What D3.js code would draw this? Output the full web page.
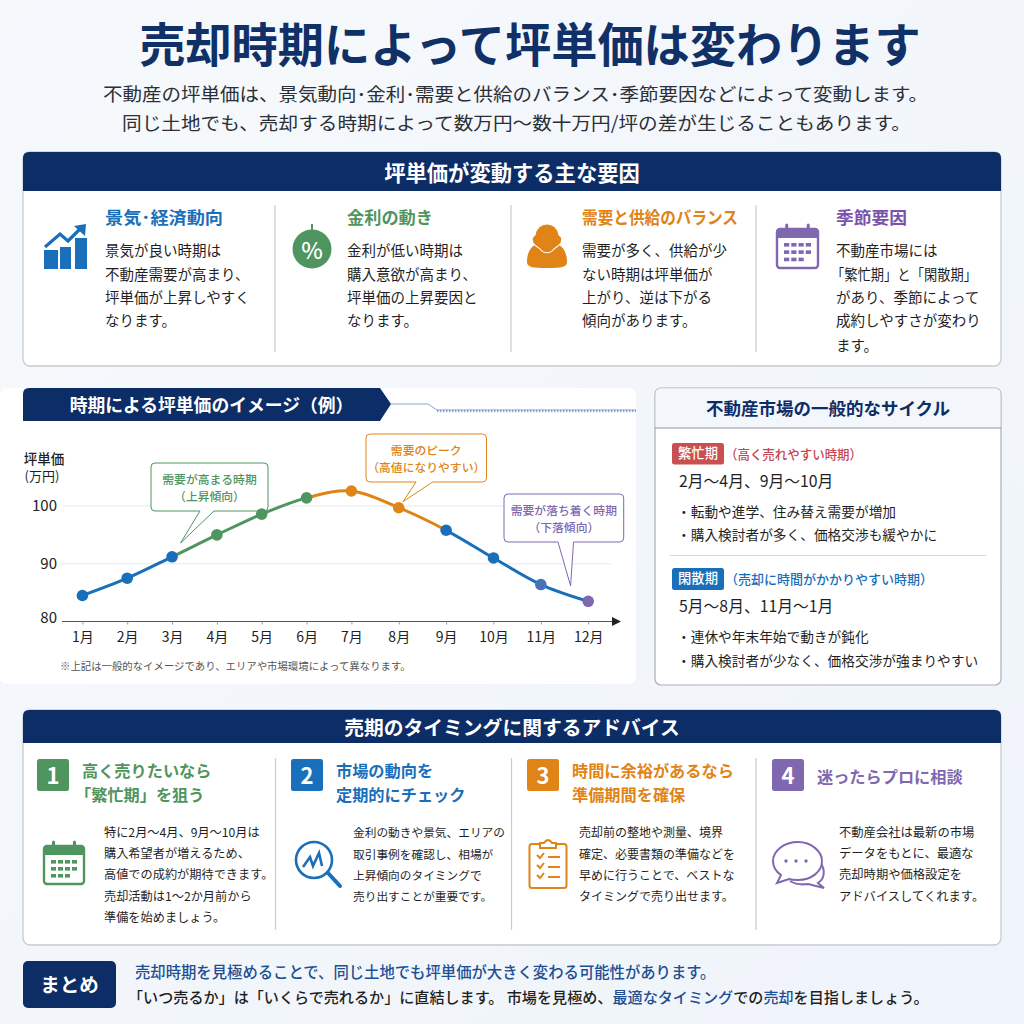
<!DOCTYPE html>
<html lang="ja"><head><meta charset="utf-8">
<script src="https://cdn.jsdelivr.net/npm/d3@7"></script>
<style>html,body{margin:0;padding:0;background:#f3f7fb}svg{display:block}text{font-family:"Noto Sans CJK JP","Noto Sans",sans-serif}</style>
</head><body><svg id="c" width="1024" height="1024" viewBox="0 0 1024 1024"></svg>
<script>
// ---- chart data ----
const months = ["1月","2月","3月","4月","5月","6月","7月","8月","9月","10月","11月","12月"];
const prices = [84.5,87.5,91.2,95,98.6,101.4,102.6,99.7,95.8,91,86.4,83.5];
const yTicks = [80,90,100];
const segmentEnds = [0,2,5,8,11];
const segmentNames = ["blue","green","orange","blue"];
const pointNames = ["blue","blue","blue","green","green","green","orange","orange","blue","blue","slate","purple"];
// ---- text ----
const titleText = "売却時期によって坪単価は変わります";
const leadLines = ["不動産の坪単価は、景気動向･金利･需要と供給のバランス･季節要因などによって変動します。","同じ土地でも、売却する時期によって数万円～数十万円/坪の差が生じることもあります。"];
const factorHeads = ["景気･経済動向","金利の動き","需要と供給のバランス","季節要因"];
const factorBodies = [
 ["景気が良い時期は","不動産需要が高まり、","坪単価が上昇しやすく","なります。"],
 ["金利が低い時期は","購入意欲が高まり、","坪単価の上昇要因と","なります。"],
 ["需要が多く、供給が少","ない時期は坪単価が","上がり、逆は下がる","傾向があります。"],
 ["不動産市場には","「繁忙期」と「閑散期」","があり、季節によって","成約しやすさが変わり","ます。"]];
const adviceHeads = [["高く売りたいなら","「繁忙期」を狙う"],["市場の動向を","定期的にチェック"],["時間に余裕があるなら","準備期間を確保"],["迷ったらプロに相談"]];
const adviceBodies = [
 ["特に2月～4月、9月～10月は","購入希望者が増えるため、","高値での成約が期待できます。","売却活動は1～2か月前から","準備を始めましょう。"],
 ["金利の動きや景気、エリアの","取引事例を確認し、相場が","上昇傾向のタイミングで","売り出すことが重要です。"],
 ["売却前の整地や測量、境界","確定、必要書類の準備などを","早めに行うことで、ベストな","タイミングで売り出せます。"],
 ["不動産会社は最新の市場","データをもとに、最適な","売却時期や価格設定を","アドバイスしてくれます。"]];

const C={navy:"#0d2d67",blue:"#1a6fbb",green:"#4f9560",orange:"#e08417",purple:"#8068b0",slate:"#4a72b5",ink:"#1f1f1f",grey:"#c6cbd2"};
const svg=d3.select("#c");
const defs=svg.append("defs");
const bg=defs.append("linearGradient").attr("id","bg").attr("x1",0).attr("y1",0).attr("x2",1).attr("y2",1);
bg.append("stop").attr("offset",0).attr("stop-color","#f6f9fc");bg.append("stop").attr("offset",1).attr("stop-color","#eff4fa");
svg.append("rect").attr("width",1024).attr("height",1024).attr("fill","url(#bg)");

function T(g,x,y,s,o={}){const t=g.append("text").attr("x",x).attr("y",y-1.3).attr("dominant-baseline","central")
 .attr("font-size",o.size||14).attr("font-weight",o.weight||400).attr("fill",o.fill||C.ink).attr("text-anchor",o.anchor||"start").text(s);
 if(o.len)t.attr("textLength",o.len).attr("lengthAdjust","spacingAndGlyphs");return t;}
function topRound(x,y,w,h,r){return `M${x},${y+h}V${y+r}Q${x},${y} ${x+r},${y}H${x+w-r}Q${x+w},${y} ${x+w},${y+r}V${y+h}Z`;}
function panel(x,y,w,h,headH,title,size){
 const g=svg.append("g");
 g.append("rect").attr("x",x).attr("y",y).attr("width",w).attr("height",h).attr("rx",7).attr("fill","#fff").attr("stroke",C.grey).attr("stroke-width",1.3);
 g.append("path").attr("d",topRound(x,y,w,headH,6)).attr("fill",C.navy);
 T(g,x+w/2,y+headH/2+1,title,{size,weight:700,fill:"#fff",anchor:"middle"});
 return g;}
function dividers(g,xs,y1,y2){xs.forEach(x=>g.append("line").attr("x1",x).attr("x2",x).attr("y1",y1).attr("y2",y2).attr("stroke","#c9ccd1").attr("stroke-width",1.2));}

// title
T(svg,530,42.5,titleText,{size:46.2,weight:700,fill:"#103068",anchor:"middle"});
T(svg,103,94,leadLines[0],{size:18.6,fill:"#2b2f36",len:825});
T(svg,122,123,leadLines[1],{size:18.6,fill:"#2b2f36",len:789});

// factors
const p1=panel(23,152,978,214,39,"坪単価が変動する主な要因",21.3);
dividers(p1,[275,511,756],205,352);
const fx=[105,347,582,836], fc=[C.blue,C.green,C.orange,"#7b52ab"];
const fhLen=[118,86,156,71];
factorHeads.forEach((h,i)=>{
 T(p1,fx[i],218,h,{size:17,weight:700,fill:fc[i],len:fhLen[i]});
 factorBodies[i].forEach((l,j)=>{
  const o={size:14.5}; let lx=fx[i];
  if(l[0]==="「"){lx-=5;o.len=146;}
  T(p1,lx,[251,274.5,298,321,345.5][j],l,o);
 });
});
// icon chart
{const g=p1.append("g").attr("fill",C.blue);
 [[44,250,14,19],[60,247,11,22],[75,238,12,31]].forEach(b=>g.append("rect").attr("x",b[0]).attr("y",b[1]).attr("width",b[2]).attr("height",b[3]));
 g.append("path").attr("d","M45,247L60,234L68,241L80,229").attr("fill","none").attr("stroke",C.blue).attr("stroke-width",3.2);
 g.append("path").attr("d","M74,226L86,224L85,236Z");}
// icon percent
p1.append("circle").attr("cx",312).attr("cy",249).attr("r",19.5).attr("fill",C.green);
p1.append("path").attr("d","M312,224V231").attr("stroke",C.green).attr("stroke-width",2);
T(p1,312,250,"%",{size:23,weight:500,fill:"#fff",anchor:"middle"});
// icon person
{const g=p1.append("g");
 g.append("path").attr("d","M527,262C527,250 533,244 541,243C544,250 550,250 553,243C561,244 567,250 567,262C567,267 562,268 547,268C532,268 527,267 527,262Z").attr("fill",C.orange);
 g.append("path").attr("d","M533,243C531,238 533,236 535,235C536,228 541,224 547,224C553,224 558,228 559,235C561,236 563,238 561,243C559,246 556,247 554,249C550,254 544,254 540,249C538,247 535,246 533,243Z").attr("fill",C.orange).attr("stroke","#fff").attr("stroke-width",1.1);}
// calendar icon helper
function calendar(g,x,y,w,h,col,rows,cols){
 g.append("rect").attr("x",x+1).attr("y",y+4).attr("width",w-2).attr("height",h-5).attr("rx",3).attr("fill","#fff").attr("stroke",col).attr("stroke-width",2.4);
 g.append("path").attr("d",topRound(x+1,y+4,w-2,9,3)).attr("fill",col);
 [x+w*.25,x+w*.75].forEach(px=>g.append("line").attr("x1",px).attr("x2",px).attr("y1",y).attr("y2",y+9).attr("stroke",col).attr("stroke-width",3).attr("stroke-linecap","round"));
 d3.range(rows).forEach(r=>d3.range(cols-(r==rows-1?1:0)).forEach(c=>g.append("rect").attr("x",x+8+c*(w-14)/cols).attr("y",y+18+r*(h-22)/rows).attr("width",(w-14)/cols-2).attr("height",3.6).attr("fill",col)));
}
calendar(p1,776,225,43,44,C.purple,3,4);

// chart card
svg.append("rect").attr("x",0).attr("y",388).attr("width",636).attr("height",296).attr("rx",7).attr("fill","#fff");
svg.append("path").attr("d","M23,394Q23,388 29,388H380L391,404L380,421H23Z").attr("fill",C.navy);
T(svg,211.5,405.5,"時期による坪単価のイメージ（例）",{size:17.8,weight:700,fill:"#fff",anchor:"middle"});
svg.append("path").attr("d","M391,404H428L437,410H636").attr("fill","none").attr("stroke","#6d8fc2").attr("stroke-width",.8);
svg.append("path").attr("d","M437,411H636").attr("fill","none").attr("stroke","#6d8fc2").attr("stroke-width",2.4).attr("stroke-dasharray","1.4 1.6").attr("opacity",.75);

const x=d3.scaleLinear().domain([0,6,11]).range([82.4,351.4,588.2]);
const y=d3.scaleLinear().domain([80,100]).range([621.5,506]);
const chart=svg.append("g");
chart.selectAll("line.grid").data(yTicks.slice(1)).join("line").attr("class","grid").attr("x1",62).attr("x2",612).attr("y1",d=>y(d)).attr("y2",d=>y(d)).attr("stroke","#eef1f4").attr("stroke-width",1.3);
const xAxis=chart.append("g").attr("transform",`translate(0,${y(80)})`).call(d3.axisBottom(x).tickValues(d3.range(12)).tickFormat(i=>months[i]).tickSize(3).tickPadding(8));
xAxis.select(".domain").attr("d","M62,0H612").attr("stroke","#555").attr("stroke-width",1.2);
xAxis.selectAll(".tick line").attr("stroke","#999");
xAxis.selectAll("text").attr("font-size",14).attr("fill","#222").attr("font-family",'"Noto Sans CJK JP"');
chart.append("path").attr("d",`M612,${y(80)-4.5}L621,${y(80)}L612,${y(80)+4.5}Z`).attr("fill","#222");
const yAxis=chart.append("g").attr("transform","translate(62,0)").call(d3.axisLeft(y).tickValues(yTicks).tickSize(0).tickPadding(5));
yAxis.select(".domain").remove();
yAxis.selectAll("text").attr("font-size",15).attr("fill","#222").attr("font-family",'"Noto Sans CJK JP"').attr("dy",d=>d===80?"0.05em":"0.32em");
T(chart,44,459,"坪単価",{size:13.5,anchor:"middle",weight:500});
T(chart,42,477,"(万円)",{size:13,anchor:"middle"});

function callout(x0,y0,w,h,b1,b2,tx,ty,col,lines){
 const g=chart.append("g");
 g.append("path").attr("d",`M${x0+4},${y0}H${x0+w-4}Q${x0+w},${y0} ${x0+w},${y0+4}V${y0+h-4}Q${x0+w},${y0+h} ${x0+w-4},${y0+h}H${b2}L${tx},${ty}L${b1},${y0+h}H${x0+4}Q${x0},${y0+h} ${x0},${y0+h-4}V${y0+4}Q${x0},${y0} ${x0+4},${y0}Z`)
  .attr("fill","#fff").attr("fill-opacity",.95).attr("stroke",col).attr("stroke-width",1);
 lines.forEach((l,i)=>T(g,x0+w/2,y0+17+i*17,l,{size:11.8,weight:500,fill:col,anchor:"middle"}));
}
callout(151,463,117,48,200,214,180.5,543,C.green,["需要が高まる時期","（上昇傾向）"]);
callout(366,434,120.5,48,416,432.6,403,501.7,C.orange,["需要のピーク","（高値になりやすい）"]);
callout(504,494,119.7,48,558,573.5,570.6,586,C.purple,["需要が落ち着く時期","（下落傾向）"]);

const line=d3.line().x((d,i)=>x(i)).y(d=>y(d)).curve(d3.curveCatmullRom.alpha(0.5));
segmentNames.forEach((n,i)=>{
 const id="seg"+i, a=x(segmentEnds[i]), b=x(segmentEnds[i+1]);
 defs.append("clipPath").attr("id",id).append("rect").attr("x",a).attr("y",400).attr("width",b-a).attr("height",260);
 chart.append("path").datum(prices).attr("d",line).attr("fill","none").attr("stroke",C[n]).attr("stroke-width",3).attr("clip-path",`url(#${id})`);
});
chart.selectAll("circle.pt").data(prices).join("circle").attr("class","pt").attr("cx",(d,i)=>x(i)).attr("cy",d=>y(d)).attr("r",5.8).attr("fill",(d,i)=>C[pointNames[i]]);

T(svg,60,667,"※上記は一般的なイメージであり、エリアや市場環境によって異なります。",{size:10.4,fill:"#555"});

// cycle card
const cc=svg.append("g");
cc.append("rect").attr("x",655).attr("y",388).attr("width",346).attr("height",297).attr("rx",6).attr("fill","#fff").attr("stroke","#a9b0b9").attr("stroke-width",1.2);
cc.append("path").attr("d",topRound(655.6,388.6,344.8,39,5)).attr("fill","#f3f6fb");
cc.append("line").attr("x1",655).attr("x2",1001).attr("y1",428).attr("y2",428).attr("stroke","#8e959e").attr("stroke-width",1.1);
T(cc,828,409,"不動産市場の一般的なサイクル",{size:17.5,weight:700,fill:C.navy,anchor:"middle"});
cc.append("rect").attr("x",672).attr("y",443).attr("width",52).attr("height",21.5).attr("rx",2.5).attr("fill","#c94f50");
T(cc,698,454,"繁忙期",{size:13.3,weight:500,fill:"#fff",anchor:"middle"});
T(cc,725,455,"（高く売れやすい時期）",{size:13,weight:500,fill:"#c8444f",len:137});
T(cc,679,481.5,"2月～4月、9月～10月",{size:15.8});
T(cc,677,512.5,"・転動や進学、住み替え需要が増加",{size:13.7});
T(cc,677,535.5,"・購入検討者が多く、価格交渉も緩やかに",{size:13.7});
cc.append("line").attr("x1",670).attr("x2",986).attr("y1",555.5).attr("y2",555.5).attr("stroke","#d2d5d9").attr("stroke-width",1);
cc.append("rect").attr("x",672).attr("y",568).attr("width",52).attr("height",22).attr("rx",2.5).attr("fill",C.blue);
T(cc,698,579,"閑散期",{size:13.3,weight:500,fill:"#fff",anchor:"middle"});
T(cc,725,580,"（売却に時間がかかりやすい時期）",{size:13,weight:500,fill:C.blue,len:208});
T(cc,679,607,"5月～8月、11月～1月",{size:15.8});
T(cc,677,637.5,"・連休や年末年始で動きが鈍化",{size:13.7});
T(cc,677,661.5,"・購入検討者が少なく、価格交渉が強まりやすい",{size:13.7});

// advice
const p3=panel(23,710,978,235,33,"売期のタイミングに関するアドバイス",19.8);
dividers(p3,[275.5,511.5,756],758,930);
const bx=[37,291,527,772], hx=[82,336,572,817], ax=[104,353,579,839], ac=[C.green,C.blue,C.orange,C.purple], bs=[12.2,11.7,12,12.3];
adviceHeads.forEach((h,i)=>{
 p3.append("rect").attr("x",bx[i]).attr("y",759).attr("width",32).attr("height",32).attr("rx",2.5).attr("fill",ac[i]);
 T(p3,bx[i]+16,775.5,String(i+1),{size:22,weight:700,fill:"#fff",anchor:"middle"});
 h.forEach((l,j)=>T(p3,l[0]==="「"?hx[i]-7:hx[i],h.length===1?777:771+j*24.5,l,{size:16.2,weight:700,fill:ac[i]}));
 adviceBodies[i].forEach((l,j)=>T(p3,ax[i],[833,854.5,875.5,897,918][j],l,{size:bs[i]}));
});
calendar(p3,43,842,42,43,C.green,3,4);
// magnifier
p3.append("circle").attr("cx",314).attr("cy",860).attr("r",18).attr("fill","#fff").attr("stroke",C.blue).attr("stroke-width",2.6);
p3.append("path").attr("d","M303,867L310,857L313,866L319,853L322,866").attr("fill","none").attr("stroke",C.blue).attr("stroke-width",2.6);
p3.append("line").attr("x1",328).attr("y1",873).attr("x2",340).attr("y2",886).attr("stroke",C.blue).attr("stroke-width",4).attr("stroke-linecap","round");
// clipboard
{const g=p3.append("g").attr("fill","none").attr("stroke",C.orange).attr("stroke-width",2);
 g.append("rect").attr("x",529.5).attr("y",844).attr("width",37).attr("height",44).attr("rx",2.5);
 g.append("path").attr("d","M540,848V843H544Q548,837 552,843H556V848Z").attr("fill","#fff");
 [857,867,877].forEach(v=>{g.append("path").attr("d",`M537,${v-2}L540,${v+1}L544,${v-4}`);g.append("line").attr("x1",548).attr("x2",560).attr("y1",v).attr("y2",v);});}
// chat
{const g=p3.append("g").attr("fill","none").attr("stroke",C.purple).attr("stroke-width",2);
 g.append("path").attr("d","M816,858C826,866 826,878 818,883L824,888L808,884C801,885 795,884 790,881");
 g.append("path").attr("d","M798,842C812,842 822,852 822,861C822,872 811,880 798,880C795,880 792,880 789,879L777,883L781,875C775,871 773,866 773,861C773,851 784,842 798,842Z").attr("fill","#fff");
 [786,796,806].forEach(v=>g.append("circle").attr("cx",v).attr("cy",861).attr("r",1.7).attr("fill",C.purple).attr("stroke","none"));}

// summary
svg.append("rect").attr("x",23).attr("y",961).attr("width",93).attr("height",47).attr("rx",5).attr("fill",C.navy);
T(svg,69.5,985,"まとめ",{size:19.5,weight:700,fill:"#fff",anchor:"middle"});
T(svg,135,972.5,"売却時期を見極めることで、同じ土地でも坪単価が大きく変わる可能性があります。",{size:15.35,weight:500,fill:"#1d4f95"});
const sum=T(svg,128,997.5,"",{size:15.1,weight:500});
[["「いつ売るか」は「いくらで売れるか」に直結します。 市場を見極め、",C.ink],["最適なタイミング","#1d4f95"],["での",C.ink],["売却","#1d4f95"],["を目指しましょう。",C.ink]]
 .forEach(p=>sum.append("tspan").attr("fill",p[1]).text(p[0]));
</script></body></html>
